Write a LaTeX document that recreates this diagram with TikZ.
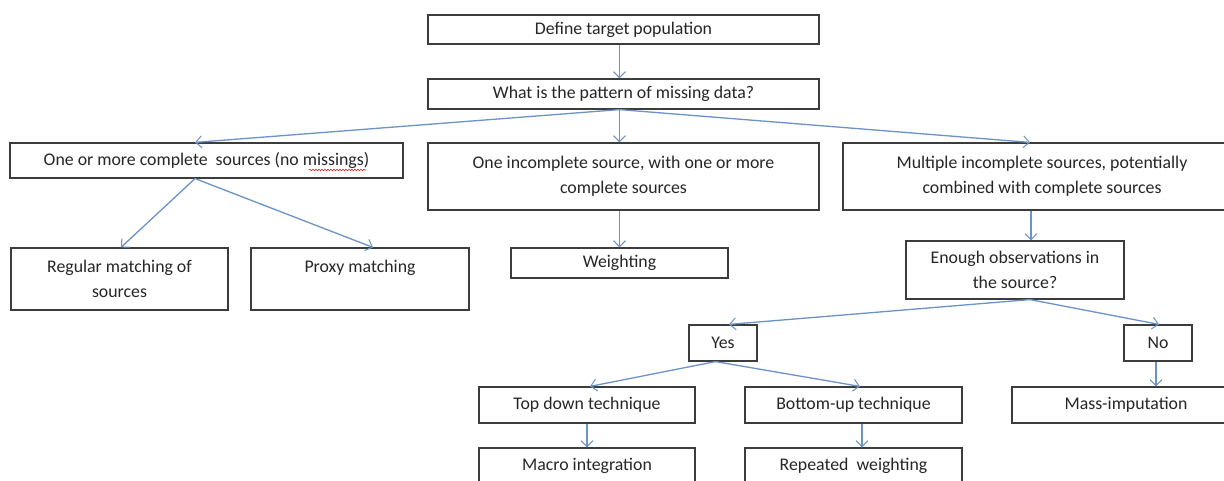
\documentclass[tikz,border=0pt]{standalone}
\usepackage{fontspec}
\setmainfont{Carlito}
\usetikzlibrary{arrows.meta,decorations.pathmorphing}
\definecolor{boxline}{RGB}{60,60,60}
\definecolor{flowblue}{RGB}{108,147,199}
\definecolor{spellred}{RGB}{220,40,40}
\begin{document}
\begin{tikzpicture}[x=1pt,y=-1pt,
  box/.style={draw=boxline, line width=1.2pt, fill=white, inner sep=2pt,
    align=center, text=black!85, font=\fontsize{17.8}{25}\selectfont},
  arr/.style={draw=flowblue, line width=1.3pt,
    -{Straight Barb[length=6pt,width=12pt,line width=1pt]}}]
\useasboundingbox (0,0) rectangle (1224,481);
\clip (0,0) rectangle (1224,481);
\fill[white] (0,0) rectangle (1224,481);

% boxes
\node[box, minimum width=391pt, minimum height=29pt] (def) at (623.5,29.5) {Define target population};
\node[box, minimum width=391pt, minimum height=30pt] (what) at (623.5,94) {What is the pattern of missing data?};
\node[box, minimum width=393pt, minimum height=35pt] (A) at (206.5,160.5) {One or more complete~ sources (no missings)};
\node[box, minimum width=391pt, minimum height=67pt] (B) at (623.5,176.5) {One incomplete source, with one or more\\complete sources};
\node[box, minimum width=398pt, minimum height=67pt] (C) at (1042,176.5) {Multiple incomplete sources, potentially\\combined with complete sources};
\node[box, minimum width=217pt, minimum height=62pt] (reg) at (119.5,279) {Regular matching of\\sources};
\node[box, minimum width=218pt, minimum height=62pt] (prox) at (360,279) {Proxy matching\\\mbox{}};
\node[box, minimum width=217pt, minimum height=30pt] (wgt) at (619.5,263) {Weighting};
\node[box, minimum width=218pt, minimum height=58pt] (enough) at (1015,270) {Enough observations in\\the source?};
\node[box, minimum width=68pt, minimum height=36pt] (yes) at (723,343) {Yes};
\node[box, minimum width=68pt, minimum height=36pt] (no) at (1158,343) {No};
\node[box, minimum width=216pt, minimum height=36pt] (top) at (587,405) {Top down technique};
\node[box, minimum width=217pt, minimum height=36pt] (bot) at (853.5,405) {Bottom-up technique};
\node[box, minimum width=228pt, minimum height=36pt] (mass) at (1126,405) {Mass-imputation};
\node[box, minimum width=216pt, minimum height=36pt] (macro) at (587,466) {Macro integration};
\node[box, minimum width=217pt, minimum height=36pt] (rep) at (853.5,466) {Repeated~ weighting};

% spell-check squiggle under "missings"
\draw[spellred, line width=0.6pt, decorate,
  decoration={snake, amplitude=0.8pt, segment length=3pt}] (309,170) -- (366,170);

% connectors
\draw[arr] ([xshift=-4pt]def.south) -- ([xshift=-4pt]what.north);
\draw[arr] ([xshift=-4pt]what.south) -- ([xshift=-11.5pt]A.north);
\draw[arr] ([xshift=-4pt]what.south) -- ([xshift=-4pt]B.north);
\draw[arr] ([xshift=-4pt]what.south) -- ([xshift=-12pt]C.north);
\draw[arr] ([xshift=-11.5pt]A.south) -- ([xshift=1.5pt]reg.north);
\draw[arr] ([xshift=-11.5pt]A.south) -- ([xshift=13pt]prox.north);
\draw[arr] ([xshift=-4pt]B.south) -- (wgt.north);
\draw[arr] ([xshift=-11pt]C.south) -- ([xshift=-11pt]C.south |- enough.north);
\draw[arr] ([xshift=15pt]enough.south) -- ([xshift=6pt]yes.north);
\draw[arr] ([xshift=15pt]enough.south) -- ([xshift=1pt]no.north);
\draw[arr] ([xshift=-2pt]no.south) -- ([xshift=-2pt]no.south |- mass.north);
\draw[arr] ([xshift=-7.5pt]yes.south) -- ([xshift=3pt]top.north);
\draw[arr] ([xshift=-7.5pt]yes.south) -- ([xshift=6.5pt]bot.north);
\draw[arr] (top.south) -- (macro.north);
\draw[arr] ([xshift=8.5pt]bot.south) -- ([xshift=8.5pt]bot.south |- rep.north);
\end{tikzpicture}
\end{document}
